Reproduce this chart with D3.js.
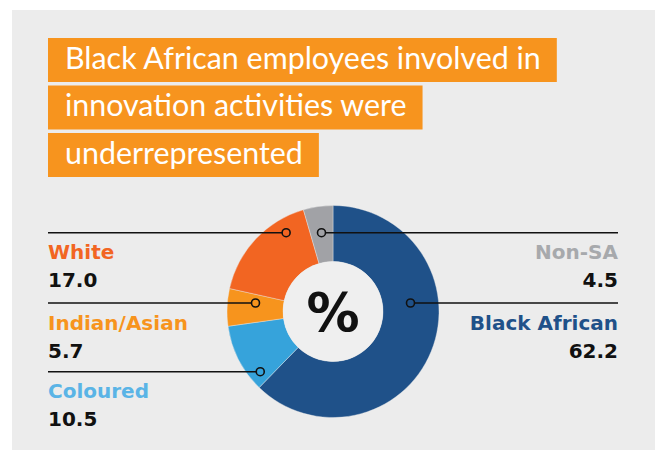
<!DOCTYPE html>
<html>
<head>
<meta charset="utf-8">
<script src="https://cdn.jsdelivr.net/npm/d3@7"></script>
<style>
  html, body { margin: 0; padding: 0; background: #ffffff; }
  svg { display: block; }
</style>
</head>
<body>
<svg id="chart" width="660" height="450"></svg>
<script>
// Share of employees involved in innovation activities, by population group (%)
const categories = ["Black African", "Coloured", "Indian/Asian", "White", "Non-SA"];
const values = [62.2, 10.5, 5.7, 17.0, 4.5];
const valueLabels = ["62.2", "10.5", "5.7", "17.0", "4.5"];
const sliceColors = ["#1f5189", "#36a3db", "#f7941d", "#f26522", "#a1a2a6"];
const labelColors = ["#1f5189", "#5ab4e6", "#f7941d", "#f26522", "#a7a9ac"];
const titleLines = [
  "Black African employees involved in",
  "innovation activities were",
  "underrepresented"
];
const centerLabel = "%";

const svg = d3.select("#chart");

// panel background
svg.append("rect")
  .attr("x", 12).attr("y", 10)
  .attr("width", 643).attr("height", 440)
  .attr("fill", "#ececec");

// title: one orange box per line
const titleFont = 30.4;
const titleG = svg.append("g");
titleLines.forEach((line, i) => {
  const top = 38 + i * 47.5;
  const rect = titleG.append("rect")
    .attr("x", 48).attr("y", top)
    .attr("height", 44)
    .attr("fill", "#f7941e");
  const t = titleG.append("text")
    .attr("x", 65).attr("y", top + 30.5)
    .attr("fill", "#ffffff")
    .attr("font-family", "Lato, 'Open Sans', sans-serif")
    .attr("font-size", titleFont)
    .text(line);
  const w = t.node().getComputedTextLength();
  rect.attr("width", w + 33);
});

// donut
const cx = 333, cy = 311.5, rOuter = 106, rInner = 50;
const pie = d3.pie().sort(null).value(d => d.value);
const arcs = pie(categories.map((c, i) => ({ name: c, value: values[i], i })));
const arc = d3.arc().innerRadius(rInner).outerRadius(rOuter);

const donut = svg.append("g").attr("transform", `translate(${cx},${cy})`);
donut.selectAll("path.slice")
  .data(arcs)
  .join("path")
  .attr("class", "slice")
  .attr("d", arc)
  .attr("fill", d => sliceColors[d.data.i])
  .attr("stroke", "#ececec")
  .attr("stroke-width", 0.4);

donut.append("circle")
  .attr("r", rInner)
  .attr("fill", "#efefef");

donut.append("text")
  .attr("x", 0).attr("y", 19)
  .attr("text-anchor", "middle")
  .attr("font-family", "'DejaVu Sans', sans-serif")
  .attr("font-weight", "bold")
  .attr("font-size", 53)
  .attr("fill", "#111111")
  .text(centerLabel);

// leader rows: vertical offset of each category's line from the donut centre, and side
const rowOffset = { "White": -78.8, "Non-SA": -78.8, "Indian/Asian": -8.5, "Black African": -8.5, "Coloured": 60.2 };
const rightSide = new Set(["Non-SA", "Black African"]);

// anchor = midpoint of the part of the row line that crosses the slice
function anchorX(d, dy) {
  let lo = Infinity, hi = -Infinity;
  for (let dx = -rOuter; dx <= rOuter; dx += 0.25) {
    const r = Math.hypot(dx, dy);
    if (r < rInner || r > rOuter) continue;
    let a = Math.atan2(dx, -dy);
    if (a < 0) a += 2 * Math.PI;
    if (a >= d.startAngle && a <= d.endAngle) {
      lo = Math.min(lo, dx);
      hi = Math.max(hi, dx);
    }
  }
  return (lo + hi) / 2;
}

const leftX = 48, rightX = 618;
const labelFont = "'DejaVu Sans', sans-serif";

arcs.forEach(d => {
  const name = d.data.name;
  const dy = rowOffset[name];
  const ax = cx + anchorX(d, dy);
  const y = cy + dy;
  const right = rightSide.has(name);

  svg.append("line")
    .attr("x1", right ? ax + 4 : leftX)
    .attr("x2", right ? rightX : ax - 4)
    .attr("y1", y).attr("y2", y)
    .attr("stroke", "#111111")
    .attr("stroke-width", 1.6);

  svg.append("circle")
    .attr("cx", ax).attr("cy", y).attr("r", 4)
    .attr("fill", "none")
    .attr("stroke", "#111111")
    .attr("stroke-width", 1.6);

  const tx = right ? rightX : leftX;
  const anchor = right ? "end" : "start";
  svg.append("text")
    .attr("x", tx).attr("y", y + 26.5)
    .attr("text-anchor", anchor)
    .attr("font-family", labelFont)
    .attr("font-weight", "bold")
    .attr("font-size", 20)
    .attr("fill", labelColors[d.data.i])
    .text(name);
  svg.append("text")
    .attr("x", tx).attr("y", y + 54.5)
    .attr("text-anchor", anchor)
    .attr("font-family", labelFont)
    .attr("font-weight", "bold")
    .attr("font-size", 20)
    .attr("fill", "#111111")
    .text(valueLabels[d.data.i]);
});
</script>
</body>
</html>
